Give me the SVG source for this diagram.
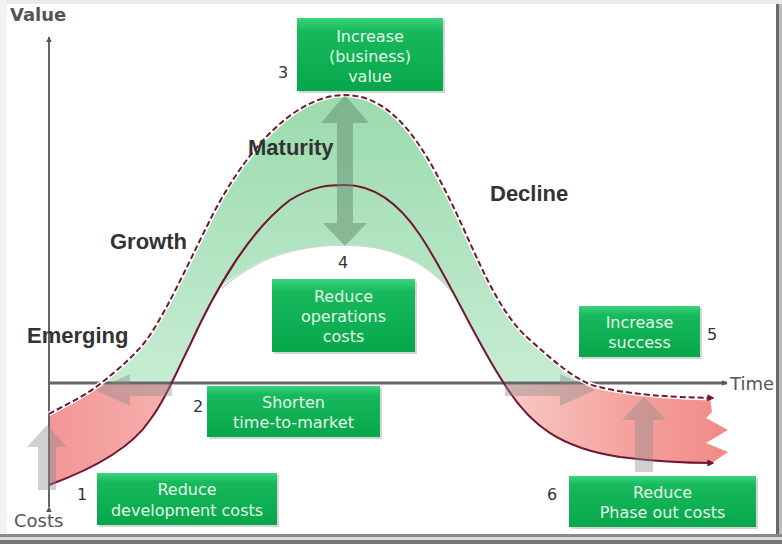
<svg xmlns="http://www.w3.org/2000/svg" width="782" height="544" viewBox="0 0 782 544">
<style>
.stage{font-family:"Liberation Sans",Arial,sans-serif;font-weight:bold;font-size:22px;fill:#333}
.ax{font-family:"DejaVu Sans",Verdana,sans-serif;font-size:18px;fill:#555}
.num{font-family:"DejaVu Sans",Verdana,sans-serif;font-size:16px;fill:#333}
.bt{font-family:"DejaVu Sans",Verdana,sans-serif;font-size:16px;fill:#e3f6e6;text-anchor:middle}
.box{fill:url(#gb)}
.shadow{fill:#888;opacity:0.35}
.axis{stroke:#666;fill:none}
.curve{stroke:#731636;fill:none;stroke-width:2}
.garrow{fill:#8a8a8a;opacity:0.4}
</style>
<defs>
<linearGradient id="gb" x1="0" y1="0" x2="0" y2="1">
<stop offset="0" stop-color="#3ad47c"/>
<stop offset="0.18" stop-color="#17b95c"/>
<stop offset="1" stop-color="#07a64b"/>
</linearGradient>
<linearGradient id="gred" gradientUnits="userSpaceOnUse" x1="49" y1="0" x2="730" y2="0">
<stop offset="0" stop-color="#f29696"/>
<stop offset="0.2" stop-color="#f6b4b0"/>
<stop offset="0.68" stop-color="#f8c8c2"/>
<stop offset="0.85" stop-color="#f4a29d"/>
<stop offset="1" stop-color="#f08a86"/>
</linearGradient>
<linearGradient id="ggreen" gradientUnits="userSpaceOnUse" x1="0" y1="95" x2="0" y2="383">
<stop offset="0" stop-color="#9adbad"/>
<stop offset="1" stop-color="#c6ecd2"/>
</linearGradient>
<clipPath id="above"><rect x="0" y="0" width="782" height="383"/></clipPath>
<clipPath id="below"><rect x="0" y="383" width="782" height="161"/></clipPath>
<marker id="ah" viewBox="0 0 10 10" refX="9" refY="5" markerWidth="6" markerHeight="6" orient="auto" markerUnits="userSpaceOnUse">
<path d="M0,0 L10,5 L0,10 z" fill="#555"/>
</marker>
<marker id="rh" viewBox="0 0 10 10" refX="8" refY="5" markerWidth="7" markerHeight="7" orient="auto" markerUnits="userSpaceOnUse">
<path d="M0,0 L10,5 L0,10 z" fill="#731636"/>
</marker>
<path id="band" d="M 49 414 C 65 405, 85 396, 100 384 C 115 372, 130 360, 145 342 C 165 315, 185 270, 210 220 C 240 160, 290 95, 345 95 C 395 95, 425 150, 450 200 C 475 250, 495 310, 530 340 C 555 362, 575 380, 595 386 C 630 395, 670 397, 710 398 L 712 412 L 706 418 L 728 430 L 706 443 L 728 452 L 712 463 L 708 463 C 690 463, 660 462, 620 457 C 560 448, 530 425, 505 385 C 475 340, 450 280, 420 235 C 400 205, 375 185, 345 185 C 330 185, 315 185, 290 200 C 250 230, 215 290, 190 345 C 175 375, 165 400, 150 420 C 130 450, 90 470, 49 485 Z"/>
</defs>

<!-- frame -->
<rect x="0" y="0" width="782" height="544" fill="#ffffff"/>
<rect x="0" y="0" width="782" height="4" fill="#ebebeb"/>
<rect x="0" y="0" width="7" height="544" fill="#f2f2f2"/>
<rect x="776" y="4" width="3" height="536" fill="#6a6a6a"/>
<rect x="779" y="4" width="3" height="536" fill="#bbbbbb"/>
<rect x="0" y="534" width="782" height="3" fill="#8a8a8a"/>
<rect x="0" y="537" width="782" height="3" fill="#dddddd"/>
<rect x="0" y="540" width="782" height="4" fill="#777777"/>

<g id="fills">
<use href="#band" fill="url(#ggreen)" clip-path="url(#above)"/>
<path d="M 220 287 C 260 255, 300 245, 345 245 C 390 245, 425 260, 454 294 L 440 200 L 345 150 L 250 200 Z" fill="url(#ggreen)"/>
<path d="M 222 288 C 260 255, 300 245, 345 245 C 390 245, 425 260, 452 292" fill="none" stroke="#c9d9cd" stroke-width="1.5"/>
<use href="#band" fill="url(#gred)" clip-path="url(#below)"/>
</g>

<g id="connectors">
<line class="axis" x1="49" y1="507" x2="49" y2="37" stroke-width="2" marker-end="url(#ah)" marker-start="url(#ah)"/>
<line class="axis" x1="49" y1="383" x2="727" y2="383" stroke-width="3" marker-end="url(#ah)"/>
<path d="M 49 414 C 65 405, 85 396, 100 384 C 115 372, 130 360, 145 342 C 165 315, 185 270, 210 220 C 240 160, 290 95, 345 95 C 395 95, 425 150, 450 200 C 475 250, 495 310, 530 340 C 555 362, 575 380, 595 386 C 630 395, 670 397, 706 398" fill="none" stroke="#ffffff" stroke-width="4.5"/>
<path class="curve" d="M 49 414 C 65 405, 85 396, 100 384 C 115 372, 130 360, 145 342 C 165 315, 185 270, 210 220 C 240 160, 290 95, 345 95 C 395 95, 425 150, 450 200 C 475 250, 495 310, 530 340 C 555 362, 575 380, 595 386 C 630 395, 670 397, 713 398" stroke-width="2.8" stroke-dasharray="6 3" marker-end="url(#rh)"/>
<path class="curve" d="M 49 485 C 90 470, 130 450, 150 420 C 165 400, 175 375, 190 345 C 215 290, 250 230, 290 200 C 315 185, 330 185, 345 185 C 375 185, 400 205, 420 235 C 450 280, 475 340, 505 385 C 530 425, 560 448, 620 457 C 660 462, 690 463, 713 463" marker-end="url(#rh)"/>
<polygon class="garrow" points="38,490 38,447 27,447 47,425 67,447 56,447 56,490" fill="#a0a0a0"/>
<polygon class="garrow" points="172,384 130,384 130,374 95,390 130,406 130,396 172,396"/>
<polygon class="garrow" points="505,384 560,384 560,374 595,390 560,406 560,396 505,396"/>
<polygon class="garrow" points="635,472 635,420 622,420 644,397 666,420 653,420 653,472"/>
<polygon points="345,95 369,123 353,123 353,223 367,223 345,246 323,223 337,223 337,123 321,123" fill="#628c6d" opacity="0.5"/>
</g>

<g id="node-increase-value">
<rect class="shadow" x="299" y="20" width="146" height="73"/>
<rect class="box" x="297" y="18" width="146" height="73"/>
<text class="bt" x="370" y="42">Increase</text>
<text class="bt" x="370" y="62">(business)</text>
<text class="bt" x="370" y="82">value</text>
<text class="num" x="278" y="78">3</text>
</g>

<g id="node-reduce-operations">
<rect class="shadow" x="274" y="281" width="143" height="73"/>
<rect class="box" x="272" y="279" width="143" height="73"/>
<text class="bt" x="343.500" y="302">Reduce</text>
<text class="bt" x="343.500" y="322">operations</text>
<text class="bt" x="343.500" y="342">costs</text>
<text class="num" x="338" y="268">4</text>
</g>

<g id="node-shorten">
<rect class="shadow" x="209" y="388" width="173" height="51"/>
<rect class="box" x="207" y="386" width="173" height="51"/>
<text class="bt" x="293.500" y="408">Shorten</text>
<text class="bt" x="293.500" y="428">time-to-market</text>
<text class="num" x="193" y="412">2</text>
</g>

<g id="node-reduce-development">
<rect class="shadow" x="99" y="475" width="180" height="52"/>
<rect class="box" x="97" y="473" width="180" height="52"/>
<text class="bt" x="187" y="495">Reduce</text>
<text class="bt" x="187" y="516">development costs</text>
<text class="num" x="77" y="500">1</text>
</g>

<g id="node-increase-success">
<rect class="shadow" x="581" y="308" width="121" height="51"/>
<rect class="box" x="579" y="306" width="121" height="51"/>
<text class="bt" x="639.500" y="328">Increase</text>
<text class="bt" x="639.500" y="348">success</text>
<text class="num" x="707" y="340">5</text>
</g>

<g id="node-reduce-phaseout">
<rect class="shadow" x="571" y="478" width="187" height="51"/>
<rect class="box" x="569" y="476" width="187" height="51"/>
<text class="bt" x="662.500" y="498">Reduce</text>
<text class="bt" x="662.500" y="518">Phase out costs</text>
<text class="num" x="547" y="500">6</text>
</g>

<g id="labels">
<text class="ax" x="10" y="21" font-weight="bold" font-size="16">Value</text>
<text class="ax" x="14" y="527">Costs</text>
<text class="ax" x="730" y="390">Time</text>
<text class="stage" x="27" y="343">Emerging</text>
<text class="stage" x="110" y="249">Growth</text>
<text class="stage" x="248" y="155">Maturity</text>
<text class="stage" x="490" y="201">Decline</text>
</g>
</svg>
